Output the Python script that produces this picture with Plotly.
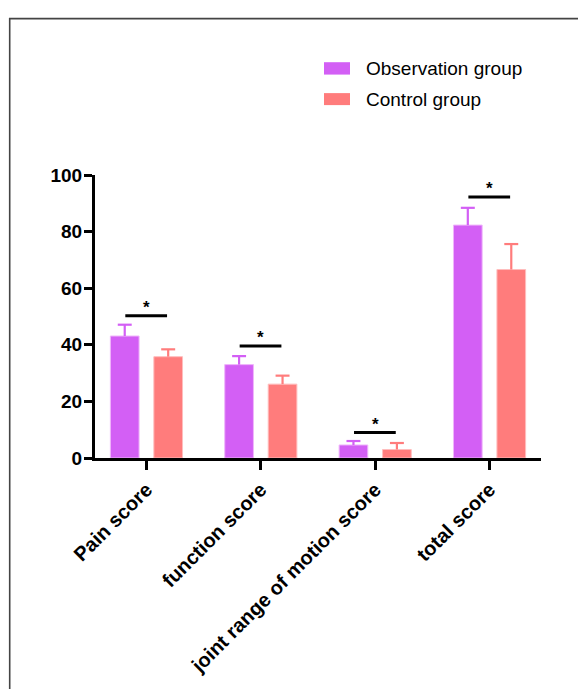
import plotly.graph_objects as go

categories = ["Pain score", "function score", "joint range of motion score", "total score"]
obs_mean = [43.1, 33.0, 4.6, 82.3]
obs_sd = [4.0, 3.0, 1.4, 6.1]
ctrl_mean = [35.8, 26.1, 3.0, 66.6]
ctrl_sd = [2.6, 3.0, 2.3, 9.0]
sig_y = [50.3, 39.6, 9.0, 92.2]
sig_text = ["*", "*", "*", "*"]
y_ticks = [0, 20, 40, 60, 80, 100]
series_names = ["Observation group", "Control group"]

OBS_C = "#D35FF5"
CTRL_C = "#FF7C7C"
FONT = "Arial, Liberation Sans, sans-serif"

BARGAP = 0.24
BARGROUPGAP = 0.34
slot = (1 - BARGAP) / 2
CAP = 0.061  # half cap width in category units
xs = list(range(len(categories)))

fig = go.Figure()
for means, col, edge, name in [
    (obs_mean, OBS_C, "#EFB5FB", series_names[0]),
    (ctrl_mean, CTRL_C, "#FFBDBD", series_names[1]),
]:
    fig.add_trace(go.Bar(
        x=xs, y=means, name=name, showlegend=False,
        marker=dict(color=col, line=dict(color=edge, width=1)),
    ))

# upper error whiskers (mean -> mean + SD, with cap)
for means, sds, col, off in [
    (obs_mean, obs_sd, OBS_C, -slot / 2),
    (ctrl_mean, ctrl_sd, CTRL_C, slot / 2),
]:
    ex, ey = [], []
    for x, m, s in zip(xs, means, sds):
        xc = x + off
        ex += [xc, xc, None, xc - CAP, xc + CAP, None]
        ey += [m, m + s, None, m + s, m + s, None]
    fig.add_trace(go.Scatter(x=ex, y=ey, mode="lines", line=dict(color=col, width=2.2),
                             showlegend=False, hoverinfo="skip"))

# significance brackets
lx, ly = [], []
for i, y in enumerate(sig_y):
    lx += [i - 0.185, i + 0.18, None]
    ly += [y, y, None]
fig.add_trace(go.Scatter(x=lx, y=ly, mode="lines", line=dict(color="black", width=3),
                         showlegend=False, hoverinfo="skip"))
for i, (y, t) in enumerate(zip(sig_y, sig_text)):
    fig.add_annotation(x=i, y=y, text=t, showarrow=False, yanchor="bottom",
                       yshift=-3, font=dict(family=FONT, size=17, color="black", weight="bold"))

# pixel helpers (page body has an 8px margin)
OFF = 8
L, W, H = 95.0 - OFF, 446.0, 290.3
B = 466.0 - OFF
def px(x):
    return (x - OFF - L) / W
def py(y):
    return (B - (y - OFF)) / H

for name, col, y0, y1 in [(series_names[0], OBS_C, 60, 72.7),
                          (series_names[1], CTRL_C, 91.7, 104)]:
    fig.add_shape(type="rect", xref="paper", yref="paper",
                  x0=px(324), x1=px(350), y0=py(y1), y1=py(y0),
                  fillcolor=col, line=dict(width=0))
    fig.add_annotation(xref="paper", yref="paper", x=px(364), y=py((y0 + y1) / 2),
                       text=name, showarrow=False, xanchor="left", yanchor="middle",
                       font=dict(family=FONT, size=19, color="black"))

# frame around figure (top and left visible)
fig.add_shape(type="rect", xref="paper", yref="paper",
              x0=px(9.7), x1=px(620), y0=py(720), y1=py(15.3),
              line=dict(color="#444444", width=1.6), fillcolor="rgba(0,0,0,0)")

fig.update_layout(
    width=578, height=681,
    margin=dict(l=int(L), r=int(578 - L - W), t=int(175.7 - OFF), b=int(681 - B)),
    paper_bgcolor="white", plot_bgcolor="white",
    barmode="group", bargap=BARGAP, bargroupgap=BARGROUPGAP,
    font=dict(family=FONT, color="black"),
)
fig.update_xaxes(
    range=[-0.45, 3.45], tickmode="array", tickvals=xs, ticktext=categories,
    tickangle=-45, tickfont=dict(family=FONT, size=20, color="black", weight="bold"),
    showline=True, linecolor="black", linewidth=3,
    ticks="outside", ticklen=9, tickwidth=3, tickcolor="black",
    showgrid=False, zeroline=False,
)
fig.update_yaxes(
    range=[0, 100], tickmode="array", tickvals=y_ticks,
    tickfont=dict(family=FONT, size=19, color="black", weight="bold"),
    ticklabelstandoff=-2,
    showline=True, linecolor="black", linewidth=3,
    ticks="outside", ticklen=8, tickwidth=3, tickcolor="black",
    showgrid=False, zeroline=False,
)

fig.write_html("out.html")
